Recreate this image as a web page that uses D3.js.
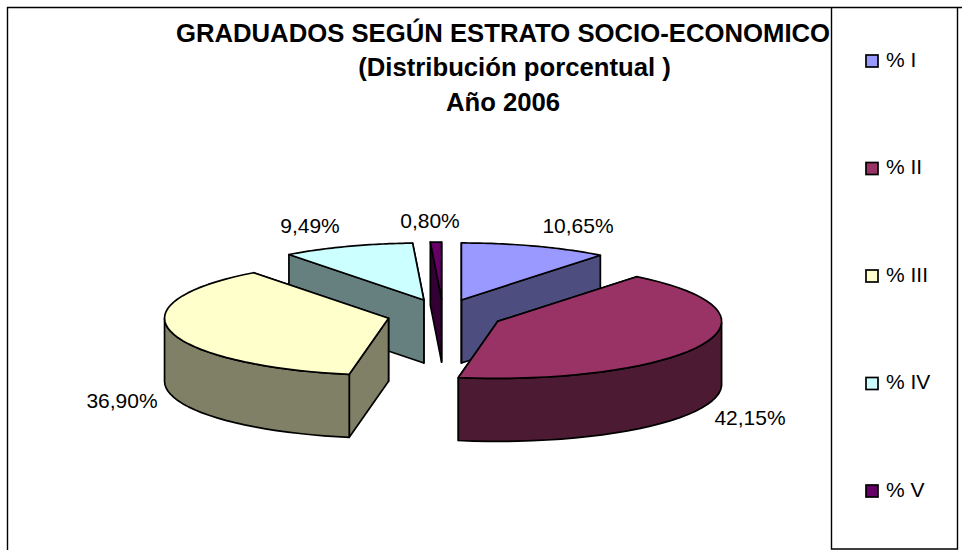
<!DOCTYPE html>
<html><head><meta charset="utf-8">
<script src="https://cdn.jsdelivr.net/npm/d3@7"></script>
<style>html,body{margin:0;padding:0;background:#fff}svg{display:block}text{font-family:"Liberation Sans",Arial,sans-serif;fill:#000}</style>
</head><body><svg id="c" width="962" height="554"></svg>
<script>
const categories = ["% I","% II","% III","% IV","% V"];
const values = [10.65,42.15,36.90,9.49,0.80];
const valueLabels = ["10,65%","42,15%","36,90%","9,49%","0,80%"];
const explode = [1,1.07,1,1,1];
const topColors = ["#9999ff","#993366","#ffffcc","#ccffff","#660066"];
const sideColors = ["#4d4d80","#4d1a33","#808066","#668080","#330033"];
const titleLines = ["GRADUADOS SEGÚN ESTRATO SOCIO-ECONOMICO","(Distribución porcentual )","Año 2006"];

const cx=443, cy=314.6, rx=224, ry=57, depth=63, gap=56, gapY=15.5;
const svg=d3.select("#c");
// frame
svg.append("path").attr("d","M7.5 550V7.5H962").attr("fill","none").attr("stroke","#000").attr("stroke-width",1.4);
svg.append("path").attr("d","M831.5 7.5V549H957.5V7.5").attr("fill","none").attr("stroke","#000").attr("stroke-width",1.4);
// title
const titleX=[503,514.5,503], titleY=[41.5,76,110.5];
svg.append("g").selectAll("text").data(titleLines).join("text")
 .attr("x",(d,i)=>titleX[i]).attr("y",(d,i)=>titleY[i]).attr("text-anchor","middle")
 .attr("font-size",25.7).attr("font-weight","bold").text(d=>d);

const pie=d3.pie().sort(null).value(d=>d)(values);
const line=d3.line();
const slices=pie.map((p,i)=>{
  const mid=(p.startAngle+p.endAngle)/2;
  const ax=cx+gap*explode[i]*Math.sin(mid), ay=cy-gapY*explode[i]*Math.cos(mid);
  const pt=a=>[ax+rx*Math.sin(a), ay-ry*Math.cos(a)];
  const arc=d3.range(0,41).map(k=>pt(p.startAngle+(p.endAngle-p.startAngle)*k/40));
  return {i,ax,ay,arc,p};
});
const g=svg.append("g").attr("stroke","#000").attr("stroke-width",1.7).attr("stroke-linejoin","round");
// back to front painter order
[3,0,4,2,1].forEach(i=>{
  const s=slices[i], first=s.arc[0], last=s.arc[s.arc.length-1], apex=[s.ax,s.ay];
  const down=q=>[q[0],q[1]+depth];
  const wall=pts=>g.append("path").attr("d",line(pts)+"Z").attr("fill",sideColors[i]);
  wall([apex,last,down(last),down(apex)]);
  wall([apex,first,down(first),down(apex)]);
  const vis=s.arc.filter((q,k)=>{const a=s.p.startAngle+(s.p.endAngle-s.p.startAngle)*k/40;return Math.cos(a)<=0;});
  if(vis.length>1) wall(vis.concat(vis.slice().reverse().map(down)));
  g.append("path").attr("d",line([apex,...s.arc])+"Z").attr("fill",topColors[i]);
});
// data labels
const labelPos=[[578,225],[750,417],[122,400],[310,225],[430,220]];
svg.append("g").selectAll("text").data(valueLabels).join("text")
 .attr("x",(d,i)=>labelPos[i][0]).attr("y",(d,i)=>labelPos[i][1]+7.5).attr("text-anchor","middle")
 .attr("font-size",21).text(d=>d);
// legend
const ly=d3.scalePoint().domain(categories).range([60,490]);
const lg=svg.append("g").selectAll("g").data(categories).join("g").attr("transform",d=>`translate(866,${ly(d)})`);
lg.append("rect").attr("x",0).attr("y",-5).attr("width",12).attr("height",12)
 .attr("fill",(d,i)=>topColors[i]).attr("stroke","#000").attr("stroke-width",1.7);
lg.append("text").attr("x",20).attr("y",6.5).attr("font-size",21).text(d=>d);
</script></body></html>
